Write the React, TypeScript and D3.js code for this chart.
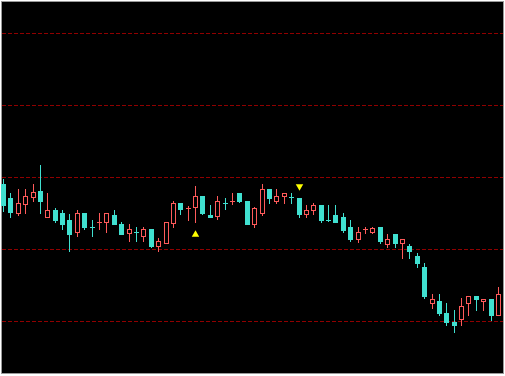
import React from "react";
import * as d3 from "d3";

// OHLC values (price units)
const opens = [1137,1123,1108,1117,1124,1130,1104,1111,1108,1101,1089,1108,1094,1098,1099,1106,1097,1088,1089,1085,1092,1075,1078,1098,1118,1112,1114,1125,1106,1105,1118,1119,1128,1120,1097,1108,1132,1120,1125,1124,1123,1107,1111,1116,1101,1106,1104,1094,1082,1091,1089,1094,1077,1087,1078,1075,1065,1054,1018,1020,1008,999,1002,1018,1025,1020,1022,1006];
const highs = [1142,1128,1132,1132,1137,1156,1128,1113,1111,1107,1111,1108,1101,1108,1108,1111,1099,1097,1094,1094,1092,1083,1099,1120,1118,1115,1135,1125,1116,1125,1123,1128,1128,1120,1114,1137,1132,1132,1128,1128,1123,1116,1118,1116,1116,1116,1108,1101,1094,1094,1094,1094,1087,1087,1082,1077,1068,1058,1027,1027,1018,1011,1023,1025,1025,1022,1022,1034];
const lows = [1110,1104,1106,1108,1120,1108,1104,1099,1092,1070,1085,1092,1085,1092,1089,1097,1087,1080,1080,1080,1074,1070,1078,1094,1107,1101,1099,1107,1104,1102,1112,1117,1119,1097,1094,1106,1118,1118,1118,1118,1104,1104,1107,1099,1100,1099,1089,1080,1079,1088,1088,1078,1074,1074,1063,1063,1054,1023,1013,1006,996,989,996,1006,1011,1011,1001,1006];
const closes = [1116,1109,1118,1125,1129,1120,1111,1101,1097,1087,1108,1094,1093,1099,1108,1097,1087,1092,1088,1092,1075,1080,1099,1118,1112,1113,1125,1108,1104,1120,1117,1120,1120,1097,1113,1132,1123,1125,1128,1123,1107,1111,1116,1101,1100,1099,1091,1082,1089,1092,1093,1080,1082,1078,1082,1070,1058,1025,1022,1008,999,996,1015,1025,1022,1022,1006,1027];

// signal markers
const buyIndex = [26];
const buyPrice = [1086.5];
const sellIndex = [40];
const sellPrice = [1134.5];

const gridTicks = [1000, 1072, 1144, 1216, 1288];

const W = 505;
const H = 376;

export default function App() {
  const n = opens.length;
  const x = d3.scaleLinear().domain([0, n - 1]).range([3, 498]);
  const y = d3.scaleLinear().domain([1000, 1288]).range([321, 33]);
  const up = "#ff5a5a";
  const down = "#40e0d0";
  const tri = d3.symbol(d3.symbolTriangle, 24)();

  return (
    <svg
      width={W}
      height={H}
      style={{ position: "absolute", left: 0, top: 0, display: "block" }}
    >
      <rect x={0} y={0} width={W} height={H} fill="#ffffff" />
      <rect x={1.5} y={1.5} width={W - 3} height={H - 4} fill="#000" stroke="#9a9a9a" strokeWidth={1} />
      {gridTicks.map((t) => (
        <line
          key={t}
          x1={2}
          x2={W - 2}
          y1={Math.round(y(t)) + 0.5}
          y2={Math.round(y(t)) + 0.5}
          stroke="#900000"
          strokeWidth={1}
          strokeDasharray="4,2"
          shapeRendering="crispEdges"
        />
      ))}
      {opens.map((o, i) => {
        const c = closes[i];
        const cx = Math.round(x(i));
        const bull = c >= o;
        const col = bull ? up : down;
        const yT = Math.round(y(Math.max(o, c)));
        const yB = Math.round(y(Math.min(o, c)));
        const yH = Math.round(y(highs[i]));
        const yL = Math.round(y(lows[i]));
        const bodyH = yB - yT;
        return (
          <g key={i}>
            <line x1={cx + 0.5} x2={cx + 0.5} y1={yH} y2={yL + 1} stroke={col} strokeWidth={1} />
            {bodyH <= 1 ? (
              <rect x={cx - 2} y={yT} width={5} height={1} fill={col} />
            ) : bull ? (
              <rect x={cx - 1.5} y={yT + 0.5} width={4} height={bodyH} fill="#000" stroke={col} strokeWidth={1} />
            ) : (
              <rect x={cx - 2} y={yT} width={5} height={bodyH + 1} fill={col} />
            )}
          </g>
        );
      })}
      {buyIndex.map((bi, k) => (
        <path
          key={"b" + k}
          d={tri!}
          transform={`translate(${Math.round(x(bi)) + 0.5},${y(buyPrice[k])})`}
          fill="#ffff00"
        />
      ))}
      {sellIndex.map((si, k) => (
        <path
          key={"s" + k}
          d={tri!}
          transform={`translate(${Math.round(x(si)) + 0.5},${y(sellPrice[k])}) rotate(180)`}
          fill="#ffff00"
        />
      ))}
    </svg>
  );
}
